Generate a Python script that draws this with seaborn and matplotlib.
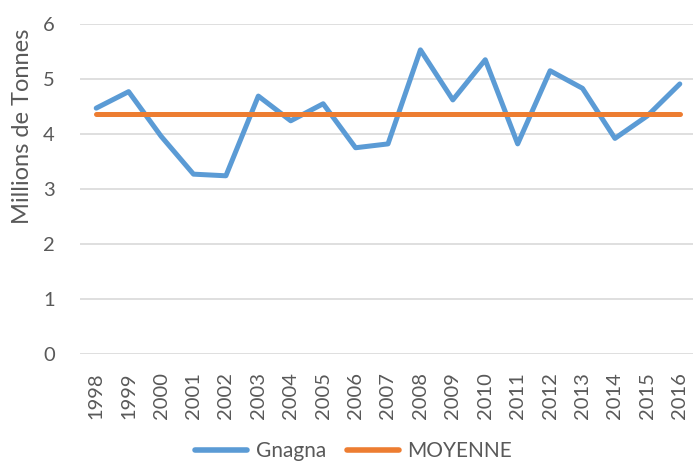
import matplotlib
matplotlib.use("Agg")
import matplotlib.pyplot as plt
import seaborn as sns
import pandas as pd

years = [str(y) for y in range(1998, 2017)]
gnagna = [4.47, 4.77, 3.96, 3.27, 3.24, 4.69, 4.24, 4.55, 3.75, 3.82,
          5.53, 4.62, 5.35, 3.82, 5.15, 4.83, 3.92, 4.33, 4.91]
moyenne = [4.37] * len(years)
yticks = [0, 1, 2, 3, 4, 5, 6]

sns.set_theme(style="white")
plt.rcParams['font.family'] = ['Lato', 'DejaVu Sans']
txt = '#595959'

df = pd.DataFrame({
    'Année': years * 2,
    'Valeur': gnagna + moyenne,
    'Série': ['Gnagna'] * len(years) + ['MOYENNE'] * len(years),
})

fig = plt.figure(figsize=(6.93, 4.67), dpi=100)
ax = fig.add_axes([80 / 693, 1 - 354 / 467, (696 - 80) / 693, (354 - 24) / 467])

sns.lineplot(data=df, x='Année', y='Valeur', hue='Série',
             palette={'Gnagna': '#5B9BD5', 'MOYENNE': '#ED7D31'},
             linewidth=3.6, ax=ax, legend=True, sort=False)

ax.set_xlim(-0.5, len(years) - 0.5)
ax.set_ylim(0, 6)
ax.set_yticks(yticks)
ax.set_yticklabels([str(v) for v in yticks], fontsize=14.5, color=txt)
ax.set_xticks(range(len(years)))
ax.set_xticklabels(years, rotation=90, fontsize=14.5, color=txt)
ax.tick_params(axis='y', length=0, pad=18)
ax.tick_params(axis='x', length=0, pad=13)
ax.grid(axis='y', color='#D9D9D9', linewidth=1.2)
ax.set_axisbelow(True)
for s in ax.spines.values():
    s.set_visible(False)
ax.set_xlabel('')
ax.set_ylabel('Millions de Tonnes', fontsize=17, color=txt)
ax.yaxis.set_label_coords((33 - 80) / 616, (354 - 126) / 330)

handles, labels = ax.get_legend_handles_labels()
ax.get_legend().remove()
leg = fig.legend(handles, labels, loc='lower center', bbox_to_anchor=(0.51, -0.028),
                 ncol=2, frameon=False, fontsize=15, handlelength=2.5,
                 columnspacing=1.0, handletextpad=0.4)
for t in leg.get_texts():
    t.set_color(txt)
for l in leg.get_lines():
    l.set_linewidth(4)

fig.savefig('out.png', dpi=100)
